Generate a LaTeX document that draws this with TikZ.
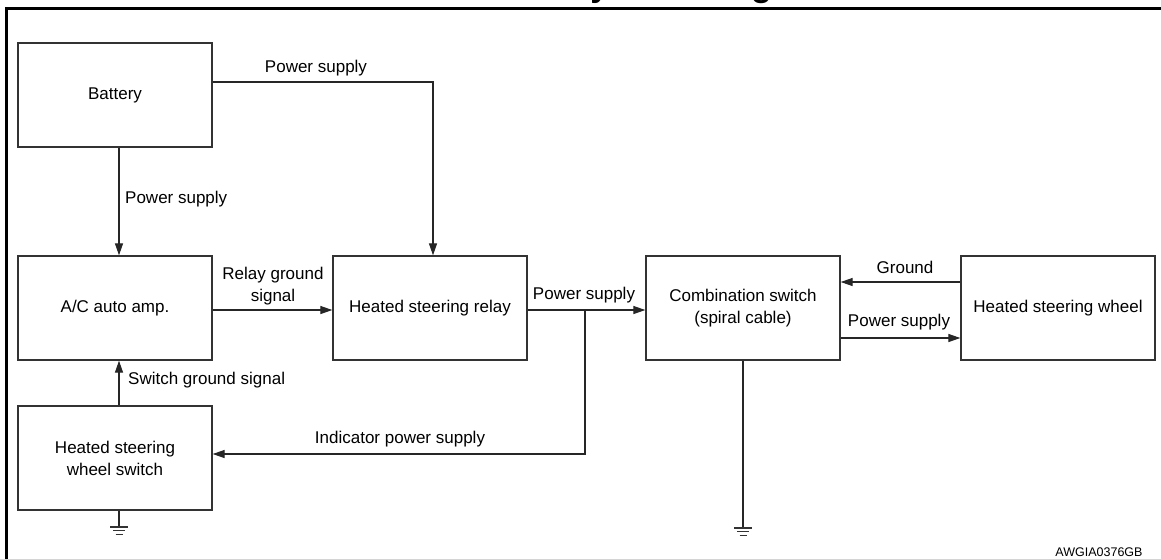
\documentclass[tikz,border=0pt]{standalone}
\usepackage{fontspec}
\setmainfont{Liberation Sans}
\usetikzlibrary{arrows.meta,calc}
\tikzset{
  box/.style={draw=black!80, line width=1.3pt, minimum width=194pt, minimum height=104pt, inner sep=0pt, align=center, font=\fontsize{17}{22}\selectfont},
  conn/.style={draw=black!85, line width=1.2pt},
  arr/.style={conn, -{Triangle[length=12pt,width=8pt]}},
  lbl/.style={font=\fontsize{17}{22}\selectfont, inner sep=0pt, align=center},
  frame/.style={draw=black, line width=3pt},
  gnd/.pic={\draw[black!80, line width=1.2pt] (-9,0) -- (9,0) (-6,3.8) -- (6,3.8) (-3.5,7.6) -- (3.5,7.6);}
}
\begin{document}
\begin{tikzpicture}[x=1pt,y=-1pt]
\useasboundingbox (0,0) rectangle (1161,558);
% title (mostly outside the visible area)
\node[anchor=base, font=\fontsize{34}{40}\selectfont\bfseries, inner sep=0pt] (title) at (701,-3.5) {System Diagram};
% frame
\draw[frame] (6.5,560) -- (6.5,8.5) -- (1163,8.5);
% boxes
\node[box] (bat) at (115,95) {Battery};
\node[box] (ac) at (115,308) {A/C auto amp.};
\node[box] (sw) at (115,458) {Heated steering\\wheel switch};
\node[box] (relay) at (430,308) {Heated steering relay};
\node[box] (comb) at (743,308) {Combination switch\\(spiral cable)};
\node[box] (hsw) at (1058,308) {Heated steering wheel};
% helper coordinates
\coordinate (v1) at (119,0);
\coordinate (h1) at (0,82);
\coordinate (rt) at (433,0);
\coordinate (h2) at (0,310);
\coordinate (br) at (585,310);
\coordinate (h3) at (0,454);
\coordinate (h4) at (0,282);
\coordinate (h5) at (0,338);
\coordinate (cg) at (743,528);
\coordinate (sg) at (119,527);
% connectors
\draw[arr] (bat.south -| v1) -- (ac.north -| v1);
\draw[arr] (bat.east |- h1) -| (relay.north -| rt);
\draw[arr] (ac.east |- h2) -- (relay.west |- h2);
\draw[arr] (relay.east |- h2) -- (comb.west |- h2);
\draw[arr] (br) |- (sw.east |- h3);
\draw[arr] (sw.north -| v1) -- (ac.south -| v1);
\draw[arr] (hsw.west |- h4) -- (comb.east |- h4);
\draw[arr] (comb.east |- h5) -- (hsw.west |- h5);
\draw[conn] (sw.south -| v1) -- (sg);
\draw[conn] (comb.south) -- (cg);
\pic at (sg) {gnd};
\pic at (cg) {gnd};
% labels
\node[lbl, anchor=west] (l1) at (125,199) {Power supply};
\node[lbl] (l2) at (316,68) {Power supply};
\node[lbl] (l3) at (273,286) {Relay ground\\signal};
\node[lbl] (l4) at (584,295) {Power supply};
\node[lbl] (l5) at (400,439) {Indicator power supply};
\node[lbl, anchor=west] (l6) at (128,380) {Switch ground signal};
\node[lbl] (l7) at (905,267) {Ground};
\node[lbl] (l8) at (899,322) {Power supply};
\node[font=\fontsize{12.5}{15}\selectfont, inner sep=0pt] (code) at (1099,552) {AWGIA0376GB};
\end{tikzpicture}
\end{document}
